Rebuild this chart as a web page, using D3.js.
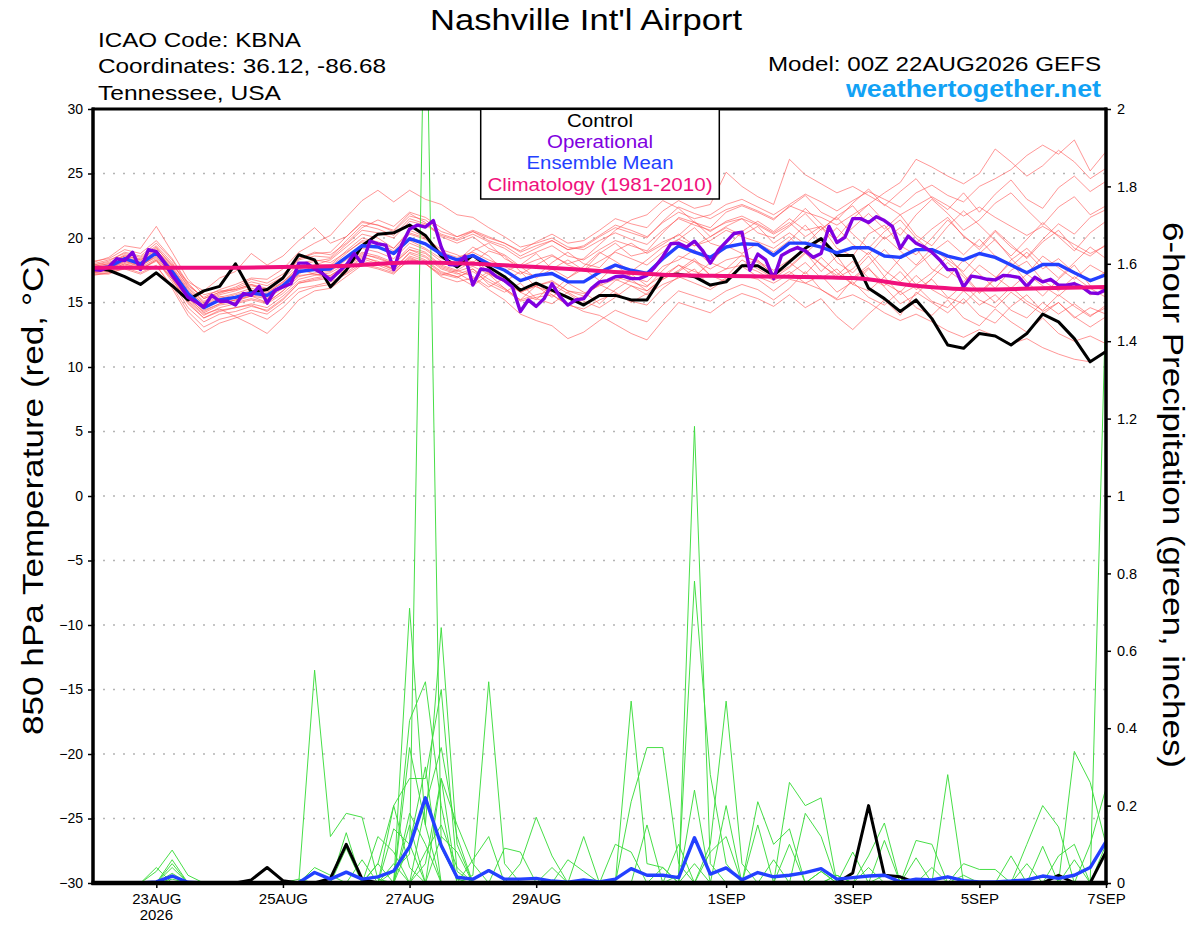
<!DOCTYPE html>
<html><head><meta charset="utf-8">
<script src="https://cdn.jsdelivr.net/npm/d3@7"></script>
<style>body{margin:0;background:#fff}svg{display:block}</style>
</head><body>
<svg id="chart" width="1200" height="927"></svg>
<script>
// ---------------- DATA ----------------
const chartTitle = "Nashville Int'l Airport";
const infoLeft = ["ICAO Code: KBNA", "Coordinates: 36.12, -86.68", "Tennessee, USA"];
const modelText = "Model: 00Z 22AUG2026 GEFS";
const siteText = "weathertogether.net";
const legendLabels = ["Control", "Operational", "Ensemble Mean", "Climatology (1981-2010)"];
const leftTitle = "850 hPa Temperature (red, \u00B0C)";
const rightTitle = "6-hour Precipitation (green, inches)";

const tempTicks = [-30,-25,-20,-15,-10,-5,0,5,10,15,20,25,30];
const precipTicks = [0,0.2,0.4,0.6,0.8,1,1.2,1.4,1.6,1.8,2];
const precipTickLabels = ["0","0.2","0.4","0.6","0.8","1","1.2","1.4","1.6","1.8","2"];
const dateTickHours = [24,72,120,168,240,288,336,384];
const dateTickLabels = ["23AUG","25AUG","27AUG","29AUG","1SEP","3SEP","5SEP","7SEP"];
const yearLabel = "2026";

// control (black), 6-hourly from 00Z 22AUG
const controlTemp = [17.7,17.5,17.0,16.4,17.3,16.3,15.2,15.9,16.25,18.0,15.8,16.0,16.9,18.7,18.3,16.2,17.5,19.4,20.3,20.4,21.0,20.2,18.6,
 17.75,18.65,17.75,17.0,15.95,16.5,15.95,15.4,14.8,15.55,15.55,15.2,15.2,17.1,17.2,17.0,16.35,16.6,17.85,17.85,17.1,
 18.15,19.2,19.95,18.65,18.65,16.1,15.3,14.3,15.2,13.75,11.7,11.45,12.6,12.4,11.7,12.6,14.1,13.5,12.2,10.4,11.2];

// ensemble mean (blue), 6-hourly
const meanTemp = [17.6,17.75,18.4,18.0,18.85,17.4,15.7,14.6,15.2,15.4,15.75,15.55,16.3,17.4,17.55,17.6,18.5,19.4,19.3,18.8,19.95,19.55,18.75,
 18.3,18.65,18.0,17.5,16.7,17.1,17.25,16.6,16.6,17.35,17.9,17.5,17.25,18.4,19.4,18.9,18.5,19.3,19.55,19.5,18.65,
 19.6,19.6,19.3,18.85,19.25,19.25,18.6,18.5,19.1,19.1,18.6,18.3,18.8,18.5,17.9,17.3,17.95,17.95,17.3,16.7,17.15];

// operational (purple), 3-hourly
const operTemp = [17.55,17.5,17.75,18.4,18.25,18.9,17.55,19.1,18.95,18.1,17.1,16.3,15.4,15.05,14.65,15.55,15.1,15.1,14.8,15.7,
 15.55,16.25,14.95,15.95,16.2,16.45,18.05,18.05,17.6,17.25,16.75,17.35,17.9,18.8,18.0,19.75,19.55,19.45,17.55,19.45,
 20.7,21.0,20.85,21.35,19.3,17.95,17.9,18.6,16.35,17.6,17.5,17.0,16.7,16.2,14.3,15.2,14.7,15.3,16.45,15.45,
 14.8,15.2,15.3,16.1,16.6,16.7,17.0,17.05,16.85,16.85,17.1,17.75,18.55,19.55,19.6,19.3,19.75,19.05,18.05,19.05,
 19.7,20.35,20.45,17.5,18.75,18.3,16.85,18.65,19.0,19.25,19.0,18.5,18.8,20.9,19.65,20.05,21.5,21.5,21.2,21.65,
 21.35,20.9,19.2,20.15,19.6,19.3,18.9,18.3,17.55,17.55,16.2,17.05,16.95,16.8,16.75,17.1,17.05,16.95,16.25,16.95,
 16.6,16.8,16.35,16.35,16.45,16.2,15.75,15.7,16.0];

// climatology (pink), daily
const climTemp = [17.7,17.7,17.7,17.75,17.85,18.1,18.0,17.75,17.45,17.15,17.05,17.0,16.9,16.3,16.0,16.1,16.2];

// ensemble members temperature (red), 6-hourly
const memberTemps = [
 [17.9,18.2,18.9,18.6,19.6,18.3,16.4,15.3,15.8, 16.2,16.8,16.5,17.2,18.4,18.9,18.7, 19.6,20.8,21.4,20.9,22.0,21.6,20.8, 20.1,20.5,19.8,19.4,18.6,19.2,19.8,19.1,19.4,20.2,21.0,20.6,20.1, 21.2,22.0,21.5,21.8,22.6,23.0,22.4,21.8, 22.6,23.4,22.8,22.1,22.9,23.6,23.0,22.4,23.5,24.1,23.3,22.8,24.0,24.6,25.3,26.4,27.2,26.5,27.6,25.2,26.7],
 [17.3,17.4,17.9,17.6,18.2,16.8,15.0,13.8,14.4, 14.6,14.8,14.3,15.2,16.5,16.8,17.0, 17.6,18.5,18.2,17.6,18.8,18.3,17.4, 17.0,17.4,16.6,16.0,15.1,15.4,15.6,14.8,14.5,15.2,15.7,15.1,14.8, 16.1,17.0,16.5,16.0,16.8,17.1,16.8,15.9, 16.8,16.5,16.0,15.2,15.6,15.0,14.2,13.6,14.1,13.5,12.8,12.3,12.9,12.4,11.8,12.2,11.5,11.0,10.6,10.4,11.3],
 [17.8,18.0,18.7,18.3,19.1,17.6,15.9,14.9,15.5, 15.1,15.5,15.0,15.9,17.2,17.9,18.3, 19.3,20.3,20.0,19.2,20.6,20.1,18.9, 18.2,19.3,18.6,17.4,17.9,18.8,17.6,16.9,17.8,18.9,18.2,17.4,18.3, 19.3,19.9,20.8,19.6,19.2,20.5,21.3,20.5, 21.5,20.6,20.9,19.7,20.8,21.9,20.7,21.8,20.2,19.4,20.9,22.1,21.0,19.8,18.6,19.9,21.2,20.1,19.0,20.4,21.3],
 [18.1,18.5,19.4,19.2,20.9,18.9,16.8,15.6,15.9, 16.0,16.4,15.9,16.6,17.6,17.2,16.9, 17.8,18.6,18.1,17.5,18.5,18.0,17.1, 17.5,18.2,17.3,16.6,15.8,16.3,16.7,15.9,15.5,16.4,17.0,16.6,16.2, 17.5,18.6,18.2,17.6,18.3,18.6,18.2,17.5, 18.3,19.2,17.9,17.1,18.2,16.9,16.3,17.4,16.0,16.8,15.4,14.9,16.1,15.0,16.2,15.1,14.4,15.6,14.7,13.9,14.8],
 [17.5,17.8,18.5,18.2,19.0,17.9,16.6,15.9,16.9, 17.4,18.8,17.9,18.6,19.8,20.8,19.6, 20.1,21.3,21.0,20.6,21.9,21.2,20.1, 19.6,20.1,19.2,18.7,17.8,18.3,18.7,17.9,17.5,18.2,18.9,18.4,17.9, 18.9,19.9,19.4,19.8,20.6,20.1,19.7,19.2, 20.1,18.8,19.9,18.1,17.3,18.6,17.0,18.4,19.2,17.6,16.9,18.3,17.2,16.1,17.5,18.2,16.7,15.9,17.0,16.1,15.4],
 [17.2,17.2,17.7,17.3,17.9,16.1,14.0,12.7,13.4, 13.8,14.2,13.7,14.6,15.8,16.2,16.4, 17.3,18.2,17.9,17.4,18.6,18.2,17.3, 17.0,16.3,17.2,16.1,15.2,16.3,15.4,16.5,15.8,14.9,16.0,16.8,15.9, 16.8,17.5,18.4,17.1,16.6,17.9,18.3,17.1, 17.8,18.9,17.4,18.6,16.9,17.9,19.1,17.8,16.4,17.3,18.6,17.2,15.8,16.9,18.1,16.6,15.5,16.8,17.9,16.3,15.9],
 [17.4,17.6,18.1,17.8,18.6,17.0,15.2,14.1,14.5, 13.9,13.3,12.6,13.8,15.2,15.9,16.1, 17.0,17.9,17.6,17.2,18.4,18.0,17.0, 16.6,16.9,16.0,15.2,14.1,13.6,13.2,12.2,12.7,13.6,14.4,13.9,13.5, 14.8,15.9,15.5,15.1,15.9,16.4,16.0,15.2, 16.1,17.4,16.0,15.3,16.8,17.7,16.2,14.9,15.6,16.9,18.1,17.0,15.7,16.8,18.3,19.2,18.0,16.9,18.1,19.3,18.4],
 [17.7,17.9,18.5,18.1,18.9,17.5,15.8,14.7,15.3, 15.6,15.9,15.7,16.6,17.8,18.2,18.4, 19.5,20.6,20.4,20.0,21.3,21.0,20.2, 19.8,20.3,19.7,19.2,18.4,18.9,19.4,18.6,18.3,19.1,19.8,19.4,19.0, 20.4,21.6,21.2,20.8,22.0,22.5,22.0,21.4, 22.5,22.0,21.6,21.0,21.8,22.6,23.5,24.3,26.1,25.5,24.8,24.2,25.0,26.9,25.9,24.8,25.6,26.8,25.9,24.6,25.4],
 [18.0,18.3,18.8,18.5,19.4,18.1,16.2,15.1,15.7, 16.1,16.6,16.3,17.0,18.3,18.6,18.5, 19.8,21.0,20.7,20.2,21.5,21.1,20.3, 19.9,20.5,20.0,19.6,19.0,19.7,20.3,19.6,19.8,20.6,21.5,21.1,20.8, 22.1,22.9,22.3,22.6,25.1,24.0,23.2,22.6, 26.1,24.9,24.2,23.5,24.0,23.3,22.6,21.8,22.5,23.2,22.5,21.7,22.4,21.6,20.9,20.2,20.9,20.2,19.5,18.8,19.4],
 [17.1,17.3,17.8,17.5,18.3,16.6,14.6,13.5,14.1, 14.3,14.7,14.4,15.3,16.5,16.7,16.9, 17.5,18.4,18.0,17.6,18.9,18.5,17.6, 17.2,17.6,16.8,16.1,15.2,15.6,15.9,14.9,14.3,14.0,13.3,12.6,12.1, 13.6,15.0,14.6,14.2,15.1,15.7,15.3,14.7, 15.6,14.6,15.3,13.9,12.9,14.1,15.2,14.0,15.8,15.0,14.2,15.3,14.0,13.4,14.7,15.6,14.3,15.0,13.8,14.6,14.1],
 [17.6,17.7,18.3,17.9,18.8,17.3,15.5,14.4,14.9, 15.2,15.5,15.3,16.1,17.3,17.6,17.8, 18.8,19.8,19.6,19.0,20.3,19.9,18.9, 18.5,18.9,18.3,17.8,17.2,17.9,18.6,18.0,18.4,19.5,20.6,21.4,21.8, 22.9,22.3,21.2,20.5,21.3,21.7,21.1,20.4, 21.2,20.1,20.9,19.2,18.6,20.3,21.0,19.4,18.7,20.0,21.4,20.2,19.1,20.5,19.3,18.5,19.9,21.1,20.3,21.6,22.2],
 [17.5,17.6,18.2,17.8,18.7,17.2,15.4,14.2,14.8, 15.0,15.3,15.0,15.9,17.0,17.3,17.4, 18.3,19.2,18.9,18.4,19.6,19.1,18.2, 17.8,18.6,17.3,16.6,17.4,16.2,15.8,16.9,17.6,16.7,17.9,17.0,16.6, 17.8,18.3,19.1,18.0,19.4,18.8,19.6,18.9, 19.8,21.0,19.6,20.8,19.5,18.7,20.1,19.0,17.9,19.2,18.3,17.4,18.8,19.9,18.4,17.2,18.6,17.7,16.8,17.9,17.2],
 [17.9,18.1,18.6,18.3,19.2,18.0,16.3,15.4,16.0, 16.4,16.9,16.8,17.6,18.9,19.6,20.2, 21.6,22.9,23.7,22.8,23.7,23.0,22.6, 21.8,21.6,20.8,20.1,19.3,19.6,20.0,19.3,19.1,19.8,20.4,19.9,19.5, 20.6,21.5,21.0,20.6,21.2,21.5,21.0,20.3, 21.0,22.3,21.1,20.0,21.5,22.6,21.3,20.2,21.8,23.0,21.9,20.6,21.4,22.7,23.5,22.2,21.0,22.4,23.2,21.8,22.5],
 [17.3,17.5,18.0,17.7,18.4,16.9,15.1,14.0,14.6, 14.9,15.2,14.9,15.7,16.8,17.1,17.3, 18.0,18.9,18.6,18.1,19.3,18.9,17.9, 17.5,17.0,16.2,16.9,15.8,15.2,16.4,15.7,14.9,15.6,16.7,17.2,16.3, 17.1,17.9,17.0,18.1,17.6,18.7,18.1,17.3, 18.1,17.2,18.5,17.3,16.4,17.6,16.5,15.8,17.1,16.0,15.3,16.4,15.2,14.6,15.8,14.9,14.1,15.0,13.9,13.1,13.9],
 [17.8,18.0,18.6,18.4,19.3,17.8,16.1,15.0,15.6, 15.9,16.3,16.0,16.8,18.0,18.3,18.1, 18.9,19.7,19.3,18.7,19.8,19.2,18.4, 18.1,19.0,19.6,18.4,17.8,16.9,17.6,18.3,17.5,18.8,19.6,18.6,18.9, 19.7,20.2,21.3,20.1,20.9,21.5,20.4,20.0, 20.9,21.9,20.6,21.7,22.5,21.0,19.9,20.8,19.6,20.7,21.6,20.1,19.3,20.6,19.5,18.4,19.7,20.6,19.2,18.6,19.5],
 [17.4,17.6,18.2,17.9,18.5,17.1,15.3,14.3,14.9, 15.2,15.6,15.4,16.2,17.1,17.2,17.1, 17.9,18.7,18.5,18.0,19.1,18.8,17.8, 17.4,17.8,17.2,16.6,15.8,16.3,16.6,15.9,15.7,16.3,16.8,16.3,15.9, 16.9,17.9,17.4,17.0,17.6,17.9,17.4,16.7, 17.4,16.5,17.1,15.8,16.6,15.4,14.8,15.9,14.6,14.0,15.2,13.8,13.2,14.5,13.5,12.7,13.8,12.6,12.0,12.4,11.8],
 [17.6,17.8,18.4,18.1,19.0,17.7,16.0,14.8,15.4, 15.7,16.1,15.8,16.5,17.6,17.9,17.9, 19.0,20.0,19.7,19.2,20.4,20.0,19.1, 18.7,18.1,19.0,18.6,17.4,17.0,18.1,18.9,18.0,17.7,19.0,19.6,18.8, 19.5,20.3,19.4,20.1,20.8,20.2,20.9,19.6, 20.4,19.5,20.7,21.6,20.3,19.2,20.5,21.4,20.0,18.9,19.8,18.7,19.9,18.6,17.8,18.9,17.6,18.4,17.3,16.6,17.4],
 [17.2,17.3,17.6,17.2,17.8,16.3,14.3,13.1,13.7, 14.0,14.4,14.1,15.0,16.1,16.3,16.6, 17.2,18.0,17.7,17.3,18.3,18.0,17.2, 16.9,17.6,16.4,15.8,16.5,15.3,14.9,15.8,15.1,14.6,15.4,16.3,15.6, 16.4,16.9,17.6,16.2,16.9,17.8,17.0,16.5, 17.2,18.1,16.9,17.6,16.4,15.9,17.0,15.6,16.3,15.1,14.6,15.9,14.8,15.6,14.4,13.8,15.0,14.1,14.9,14.0,14.6],
 [18.2,18.4,19.1,18.8,19.8,18.4,16.5,15.3,15.8, 16.0,16.4,16.1,17.0,18.4,18.8,18.9, 20.1,21.2,21.0,20.5,21.7,21.4,20.5, 20.1,20.6,20.1,19.6,18.9,19.4,19.8,19.1,19.3,20.1,20.8,20.4,20.0, 21.3,22.4,21.9,21.5,22.2,22.6,22.1,21.5, 22.4,23.3,22.0,21.4,22.7,23.8,22.5,23.6,24.6,23.1,22.2,23.5,22.0,23.4,24.5,23.0,22.3,23.9,24.8,23.6,24.4],
 [17.4,17.5,18.0,17.6,18.3,16.8,14.9,13.8,14.3, 14.6,14.9,14.6,15.5,16.6,16.9,17.1, 17.8,18.8,18.4,18.0,19.1,18.6,17.7, 17.3,16.6,17.4,16.9,15.9,16.5,15.6,14.8,15.5,16.4,15.8,15.0,15.7, 16.8,17.4,18.2,17.1,17.0,18.3,17.6,16.9, 17.7,18.8,18.0,16.9,17.6,18.9,17.5,16.6,17.8,18.8,17.5,16.6,17.9,17.0,16.1,17.2,16.3,15.5,16.6,15.6,15.8]
];

// precipitation, 6-hourly totals ending 06Z 22AUG .. 00Z 7SEP (inches)
const controlPrecip = [0,0,0,0,0,0,0,0,0,0.008,0.04,0.006,0,0,0.012,0.1,
 0.01,0,0,0,0,0,0,0,0,0,0,0,0,0,0,0,
 0,0,0,0,0,0,0,0,0,0,0,0,0,0,0,0.026,
 0.2,0.02,0.016,0,0,0,0,0,0,0,0,0,0.02,0,0,0.08];
const meanPrecip = [0,0,0,0.003,0.018,0.002,0,0,0,0,0,0.001,0.001,0.027,0.01,0.028,
 0.01,0.016,0.031,0.094,0.22,0.097,0.015,0.01,0.032,0.01,0.01,0.012,0.005,0.002,0.008,0.003,
 0.01,0.037,0.02,0.02,0.014,0.117,0.023,0.039,0.008,0.027,0.016,0.02,0.027,0.037,0.01,0.014,
 0.018,0.02,0.003,0.01,0.008,0.016,0.006,0.003,0.003,0.005,0.008,0.018,0.012,0.02,0.04,0.107];
const memberPrecips = [
 [0,0,0,0.03,0.085,0.02,0,0,0,0,0,0,0,0.55,0.12,0.18, 0.17,0.01,0,0,0,0,0,0,0,0,0,0,0,0,0,0, 0,0,0,0,0,0.05,0,0,0,0,0,0,0,0,0,0, 0,0,0,0,0,0,0,0,0,0,0,0,0,0,0,0.1],
 [0,0,0,0,0,0,0,0,0,0,0,0,0,0,0,0, 0,0,0.03,0.075,2.45,0.09,0.01,0,0,0,0,0,0,0,0,0, 0,0,0,0,0,0,0,0,0,0,0,0,0,0.03,0,0, 0,0.02,0,0,0,0,0,0,0,0,0,0,0,0,0,0],
 [0,0,0,0,0.06,0,0,0,0,0,0,0,0,0,0,0, 0,0,0,0.71,0.15,0.66,0.1,0,0,0,0,0,0,0,0,0, 0,0,0,0,0,1.18,0.05,0,0,0,0,0,0,0,0,0, 0,0,0,0,0,0,0,0,0,0,0,0,0,0,0,0],
 [0,0,0,0.04,0,0,0,0,0,0,0,0,0,0,0,0, 0,0,0,0.42,0.52,0.2,0,0,0,0,0,0,0,0,0,0, 0,0,0,0,0.02,0.78,0.28,0.05,0,0,0,0,0,0,0,0, 0,0,0,0,0,0,0,0,0,0,0,0,0,0,0,0],
 [0,0,0,0,0.05,0,0,0,0,0,0,0,0,0,0,0, 0,0,0.2,0.27,0.27,0.5,0.03,0,0,0,0,0,0,0,0,0, 0,0.47,0.05,0.04,0,0,0,0,0,0,0,0,0,0,0,0, 0,0,0,0,0,0,0,0,0,0,0,0,0,0,0,0],
 [0,0,0,0,0,0,0,0,0,0,0,0,0,0,0,0, 0,0.05,0,0,0,0,0,0.02,0.52,0.05,0,0,0,0,0,0, 0,0.21,0.35,0.35,0.05,0,0,0,0,0,0,0,0,0,0,0, 0,0,0,0,0,0,0,0,0,0,0,0,0,0,0,0],
 [0,0,0,0,0.04,0,0,0,0,0,0,0,0,0,0,0.09, 0,0,0,0.18,0.1,0,0,0,0,0,0,0,0,0,0,0, 0,0,0,0,0,0,0.1,0.47,0.05,0,0,0,0,0,0,0, 0,0,0,0,0,0,0,0,0,0,0,0,0,0,0,0],
 [0,0,0,0,0.025,0,0,0,0,0,0,0,0,0,0,0, 0,0,0,0,0,0,0,0,0,0,0.05,0.17,0.07,0,0.12,0, 0,0,0,0,0,0,0,0,0,0,0,0.26,0.2,0.22,0,0, 0,0,0,0,0,0,0,0,0,0,0,0,0,0,0,0],
 [0,0,0,0,0,0,0,0,0,0,0,0,0,0,0,0, 0,0.12,0.08,0,0,0,0,0,0,0,0,0,0,0,0,0, 0,0,0,0,0,0,0,0,0,0.21,0.1,0.14,0,0,0,0, 0,0,0,0,0,0,0,0,0,0,0,0,0,0.34,0.26,0.1],
 [0,0,0,0,0,0,0,0,0,0,0,0,0,0,0,0.13, 0,0,0,0,0.05,0.27,0,0,0,0,0,0,0,0,0,0, 0,0,0,0,0,0,0,0,0,0,0,0,0,0,0,0, 0,0,0,0,0,0.28,0,0,0,0,0,0,0,0,0,1.52],
 [0,0,0,0,0,0,0,0,0,0,0,0,0,0,0,0, 0,0,0.14,0.1,0,0,0,0,0,0,0,0,0,0,0,0, 0,0,0,0,0,0,0,0,0,0,0,0,0,0,0,0, 0.07,0.155,0,0.11,0.1,0,0,0,0,0,0,0,0,0,0,0],
 [0,0,0,0,0,0,0,0,0,0,0,0,0,0,0,0, 0,0,0,0,0,0.12,0.08,0,0,0,0,0,0,0,0,0, 0,0,0,0,0,0,0,0,0,0,0,0,0.18,0.12,0,0, 0,0,0,0,0,0,0,0,0,0,0.1,0.2,0.145,0,0,0],
 [0,0,0,0,0,0,0,0,0,0,0,0,0,0,0,0, 0,0,0,0.1,0.3,0,0,0,0,0,0,0,0,0,0,0, 0.1,0.08,0,0,0,0,0,0,0,0,0,0,0,0,0,0.08, 0,0.11,0,0,0,0,0,0,0,0.07,0,0.095,0,0,0,0],
 [0,0,0,0,0,0,0,0,0,0,0,0,0,0,0,0, 0,0,0.05,0,0,0,0,0,0,0.09,0.08,0,0,0,0,0, 0,0,0,0,0,0,0,0.2,0,0.15,0,0,0,0,0,0, 0,0,0,0,0,0,0,0,0,0,0,0,0,0,0.1,0.245],
 [0,0,0,0,0,0,0,0,0,0,0,0,0,0,0,0, 0.06,0,0,0.15,0,0,0,0,0,0,0,0,0,0,0,0, 0,0,0,0.04,0,0.24,0,0,0,0,0,0,0,0,0,0, 0,0,0,0.065,0,0,0.05,0.035,0.035,0,0,0,0,0,0,0],
 [0,0,0,0,0,0,0,0,0,0,0,0,0,0,0,0, 0,0,0,0,0.2,0.35,0.12,0,0,0,0,0,0,0.06,0.03,0, 0,0,0,0,0,0,0,0,0,0,0,0.1,0,0.03,0,0, 0,0,0,0,0,0,0,0,0,0,0,0,0,0,0,0],
 [0,0,0,0,0.02,0,0,0,0,0,0,0,0.01,0,0,0, 0,0,0,0.35,0.15,0,0,0.06,0.12,0,0,0,0,0,0,0, 0,0,0,0,0,0,0,0,0,0,0.06,0,0,0,0.02,0, 0.04,0,0,0,0,0,0,0,0,0,0,0,0,0,0,0],
 [0,0,0,0,0,0,0,0,0,0,0,0,0,0.04,0.02,0, 0,0.05,0.2,0.04,0,0,0,0,0,0,0,0,0.04,0,0,0, 0,0,0,0,0,0,0,0,0,0,0,0,0,0,0,0, 0,0,0,0,0.04,0,0,0,0,0,0,0,0,0.06,0,0],
 [0,0,0,0,0,0,0,0,0,0,0,0,0,0,0,0, 0,0,0,0,0,0.27,0.15,0.05,0,0,0,0,0,0,0,0, 0,0,0.15,0,0.1,0,0,0,0,0,0,0,0,0,0,0, 0,0,0,0,0,0,0.02,0,0,0,0.05,0,0,0,0,0],
 [0,0,0,0,0.01,0,0,0,0,0,0,0,0,0,0,0, 0,0,0,0,0.08,0.15,0.04,0,0,0,0,0,0,0,0,0, 0,0,0,0,0,0,0.08,0.12,0,0,0,0,0,0,0.02,0, 0,0,0,0,0,0,0,0,0,0,0,0,0.07,0.1,0,0]
];

// ---------------- DRAWING ----------------
const FONT = "'Liberation Sans', Arial, Helvetica, sans-serif";
const L = 93, R = 1106, T = 109, B = 883;
const svg = d3.select("#chart");

const x = d3.scaleLinear().domain([0, 384]).range([L, R]);
const yT = d3.scaleLinear().domain([-30, 30]).range([B, T]);
const yP = d3.scaleLinear().domain([0, 2]).range([B, T]);

svg.append("defs").append("clipPath").attr("id", "plotClip")
  .append("rect").attr("x", L).attr("y", T).attr("width", R - L).attr("height", B - T);

// grid
svg.append("g").selectAll("line").data(tempTicks.filter(v => v > -30 && v < 30)).join("line")
  .attr("x1", L).attr("x2", R).attr("y1", d => yT(d)).attr("y2", d => yT(d))
  .attr("stroke", "#b4b4b4").attr("stroke-width", 1.6).attr("stroke-dasharray", "2,8");

const plot = svg.append("g").attr("clip-path", "url(#plotClip)");

const lineT6 = d3.line().x((d, i) => x(i * 6)).y(d => yT(d));
const lineT3 = d3.line().x((d, i) => x(i * 3)).y(d => yT(d));
const lineClim = d3.line().x((d, i) => x(i * 24)).y(d => yT(d)).curve(d3.curveMonotoneX);
const lineP = d3.line().x((d, i) => x((i + 1) * 6)).y(d => yP(d));

plot.append("g").selectAll("path").data(memberTemps).join("path")
  .attr("d", lineT6).attr("fill", "none").attr("stroke", "#ff5050")
  .attr("stroke-width", 0.8).attr("stroke-opacity", 0.75);

plot.append("g").selectAll("path").data(memberPrecips).join("path")
  .attr("d", lineP).attr("fill", "none").attr("stroke", "#3ddc3d")
  .attr("stroke-width", 1).attr("stroke-opacity", 0.95);

plot.append("path").datum(controlPrecip).attr("d", lineP).attr("fill", "none")
  .attr("stroke", "#000").attr("stroke-width", 3).attr("stroke-linejoin", "round");
plot.append("path").datum(meanPrecip).attr("d", lineP).attr("fill", "none")
  .attr("stroke", "#2340ff").attr("stroke-width", 3.4).attr("stroke-linejoin", "round");

plot.append("path").datum(controlTemp).attr("d", lineT6).attr("fill", "none")
  .attr("stroke", "#000").attr("stroke-width", 3).attr("stroke-linejoin", "round");
plot.append("path").datum(meanTemp).attr("d", lineT6).attr("fill", "none")
  .attr("stroke", "#2340ff").attr("stroke-width", 3.4).attr("stroke-linejoin", "round");
plot.append("path").datum(operTemp).attr("d", lineT3).attr("fill", "none")
  .attr("stroke", "#8000e0").attr("stroke-width", 3.4).attr("stroke-linejoin", "round");
plot.append("path").datum(climTemp).attr("d", lineClim).attr("fill", "none")
  .attr("stroke", "#f0107c").attr("stroke-width", 4);

// axes
function styleAxis(g, size) {
  g.select(".domain").remove();
  g.selectAll(".tick line").attr("stroke", "#000").attr("stroke-width", 1.5);
  g.selectAll(".tick text").attr("fill", "#000").style("font-family", FONT).style("font-size", size + "px");
}
svg.append("g").attr("transform", `translate(${L},0)`)
  .call(d3.axisLeft(yT).tickValues(tempTicks).tickSize(5).tickPadding(5).tickSizeOuter(0))
  .call(g => styleAxis(g, 14));
svg.append("g").attr("transform", `translate(${R},0)`)
  .call(d3.axisRight(yP).tickValues(precipTicks).tickFormat((d, i) => precipTickLabels[i]).tickSize(5).tickPadding(6).tickSizeOuter(0))
  .call(g => styleAxis(g, 14.5));
svg.append("g").attr("transform", `translate(0,${B})`)
  .call(d3.axisBottom(x).tickValues(dateTickHours).tickFormat((d, i) => dateTickLabels[i]).tickSize(5).tickPadding(5).tickSizeOuter(0))
  .call(g => styleAxis(g, 15));
svg.append("text").attr("x", x(dateTickHours[0])).attr("y", 919.5).attr("text-anchor", "middle")
  .style("font-family", FONT).style("font-size", "15px").text(yearLabel);

// frame
const frame = svg.append("g").attr("stroke", "#000");
frame.append("line").attr("x1", L - 1).attr("x2", R + 1).attr("y1", T).attr("y2", T).attr("stroke-width", 3);
frame.append("line").attr("x1", L).attr("x2", L).attr("y1", T - 1.5).attr("y2", B + 2).attr("stroke-width", 3.5);
frame.append("line").attr("x1", R).attr("x2", R).attr("y1", T - 1.5).attr("y2", B + 2).attr("stroke-width", 3.5);
frame.append("line").attr("x1", L - 1.5).attr("x2", R + 1.5).attr("y1", B).attr("y2", B).attr("stroke-width", 4.5);

// legend
const lg = svg.append("g");
lg.append("rect").attr("x", 480.7).attr("y", 109.3).attr("width", 238.6).attr("height", 89.7)
  .attr("fill", "#fff").attr("stroke", "#000").attr("stroke-width", 1.5);
const legendColors = ["#000", "#8000e0", "#2340ff", "#f0107c"];
const legendBaselines = [126.7, 147.7, 169, 190.7];
const legendWidths = [66, 106, 147, 225];
lg.selectAll("text").data(legendLabels).join("text")
  .attr("x", 600).attr("y", (d, i) => legendBaselines[i]).attr("text-anchor", "middle")
  .attr("fill", (d, i) => legendColors[i]).attr("textLength", (d, i) => legendWidths[i])
  .attr("lengthAdjust", "spacingAndGlyphs")
  .style("font-family", FONT).style("font-size", "17.5px").text(d => d);

// header texts
svg.append("text").attr("x", 586).attr("y", 30).attr("text-anchor", "middle")
  .attr("textLength", 312).attr("lengthAdjust", "spacingAndGlyphs")
  .style("font-family", FONT).style("font-size", "29px").text(chartTitle);
const infoBase = [46.7, 73.3, 100];
const infoWidths = [203, 288, 183];
svg.append("g").selectAll("text").data(infoLeft).join("text")
  .attr("x", 98).attr("y", (d, i) => infoBase[i])
  .attr("textLength", (d, i) => infoWidths[i]).attr("lengthAdjust", "spacingAndGlyphs")
  .style("font-family", FONT).style("font-size", "21px").text(d => d);
svg.append("text").attr("x", 1101).attr("y", 70.7).attr("text-anchor", "end")
  .attr("textLength", 333).attr("lengthAdjust", "spacingAndGlyphs")
  .style("font-family", FONT).style("font-size", "21px").text(modelText);
svg.append("text").attr("x", 1101).attr("y", 97.3).attr("text-anchor", "end")
  .attr("textLength", 255).attr("lengthAdjust", "spacingAndGlyphs")
  .attr("fill", "#12a2f5").style("font-family", FONT).style("font-size", "24px").style("font-weight", "bold").text(siteText);

// axis titles
svg.append("text").attr("transform", "translate(43,495) rotate(-90)").attr("text-anchor", "middle")
  .attr("textLength", 480).attr("lengthAdjust", "spacingAndGlyphs")
  .style("font-family", FONT).style("font-size", "30px").text(leftTitle);
svg.append("text").attr("transform", "translate(1163,495) rotate(90)").attr("text-anchor", "middle")
  .attr("textLength", 546).attr("lengthAdjust", "spacingAndGlyphs")
  .style("font-family", FONT).style("font-size", "30px").text(rightTitle);
</script>
</body></html>
